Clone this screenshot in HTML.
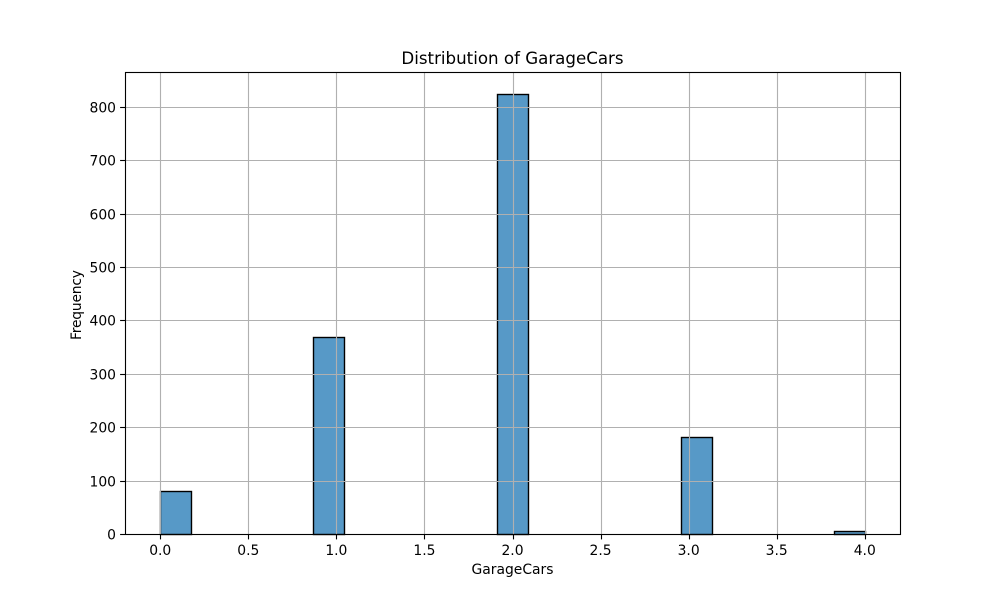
<!DOCTYPE html>
<html>
<head>
<meta charset="utf-8">
<title>Distribution of GarageCars</title>
<style>
html,body{margin:0;padding:0;background:#fff;width:1000px;height:600px;overflow:hidden}
svg{display:block}
text{font-family:"DejaVu Sans","Liberation Sans",sans-serif;fill:#000}
</style>
</head>
<body>
<svg id="chart" width="1000" height="600" viewBox="0 0 1000 600" xmlns="http://www.w3.org/2000/svg">
<rect x="0" y="0" width="1000" height="600" fill="#ffffff"/>
<text x="512.5" y="64" font-size="16.67" text-anchor="middle">Distribution of GarageCars</text>
<text x="512.5" y="574" font-size="13.89" text-anchor="middle">GarageCars</text>
<text transform="translate(81,305) rotate(-90)" font-size="13.89" text-anchor="middle" textLength="70" lengthAdjust="spacing">Frequency</text>
<g id="bars"></g>
<g id="grid"></g>
<g id="ticks"></g>
<rect x="125.5" y="72.5" width="775" height="462" fill="none" stroke="#000" stroke-width="1.11"/>
</svg>
<script>
const categories = [0, 1, 2, 3, 4];
const counts = [81, 369, 824, 181, 5];
const xTickLabels = ["0.0", "0.5", "1.0", "1.5", "2.0", "2.5", "3.0", "3.5", "4.0"];
const yTickLabels = ["0", "100", "200", "300", "400", "500", "600", "700", "800"];
const binCount = 23;

const plotLeft = 125, plotRight = 900, plotTop = 72, plotBottom = 534;
const SVG_NS = "http://www.w3.org/2000/svg";
const minCat = Math.min(...categories);
const maxCat = Math.max(...categories);
const xMin = minCat - (maxCat - minCat) * 0.05;
const xMax = maxCat + (maxCat - minCat) * 0.05;
const yMax = Math.max(...counts) * 1.05;
const binWidth = (maxCat - minCat) / binCount;

function xScale(v) {
  return plotLeft + (v - xMin) / (xMax - xMin) * (plotRight - plotLeft);
}
function yScale(v) {
  return plotBottom - v / yMax * (plotBottom - plotTop);
}
function snap(p) {
  return Math.round(p) + 0.5;
}
function make(tag, attrs, parent) {
  const el = document.createElementNS(SVG_NS, tag);
  for (const k in attrs) el.setAttribute(k, attrs[k]);
  parent.appendChild(el);
  return el;
}

const barsG = document.getElementById("bars");
const gridG = document.getElementById("grid");
const ticksG = document.getElementById("ticks");

categories.forEach(function (cat, i) {
  let idx = Math.floor((cat - minCat) / binWidth + 1e-9);
  if (idx >= binCount) idx = binCount - 1;
  const x0 = snap(xScale(minCat + idx * binWidth));
  const x1 = snap(xScale(minCat + (idx + 1) * binWidth));
  const yTop = snap(yScale(counts[i]));
  const yBase = snap(yScale(0));
  const bar = make("rect", {
    x: x0, y: yTop, width: x1 - x0, height: Math.max(yBase - yTop, 0),
    fill: "#5799c7", stroke: "#000", "stroke-width": 1.39
  }, barsG);
  
  
});

xTickLabels.forEach(function (label) {
  const px = snap(xScale(parseFloat(label)));
  const g = make("line", { x1: px, x2: px, y1: plotTop, y2: plotBottom, stroke: "#b0b0b0", "stroke-width": 1.11 }, gridG);
  
  
  const t = make("line", { x1: px, x2: px, y1: plotBottom, y2: plotBottom + 5.4, stroke: "#000", "stroke-width": 1.11 }, ticksG);
  
  
  const txt = make("text", { x: xScale(parseFloat(label)), y: 555, "font-size": 13.89, "text-anchor": "middle" }, ticksG);
  txt.textContent = label;
  
  
});

yTickLabels.forEach(function (label) {
  const py = snap(yScale(parseFloat(label)));
  const g = make("line", { x1: plotLeft, x2: plotRight, y1: py, y2: py, stroke: "#b0b0b0", "stroke-width": 1.11 }, gridG);
  
  
  const t = make("line", { x1: plotLeft - 4.9, x2: plotLeft, y1: py, y2: py, stroke: "#000", "stroke-width": 1.11 }, ticksG);
  
  
  const txt = make("text", { x: 116, y: py + 5, "font-size": 13.89, "text-anchor": "end" }, ticksG);
  txt.textContent = label;
  
  
});
</script>
</body>
</html>
